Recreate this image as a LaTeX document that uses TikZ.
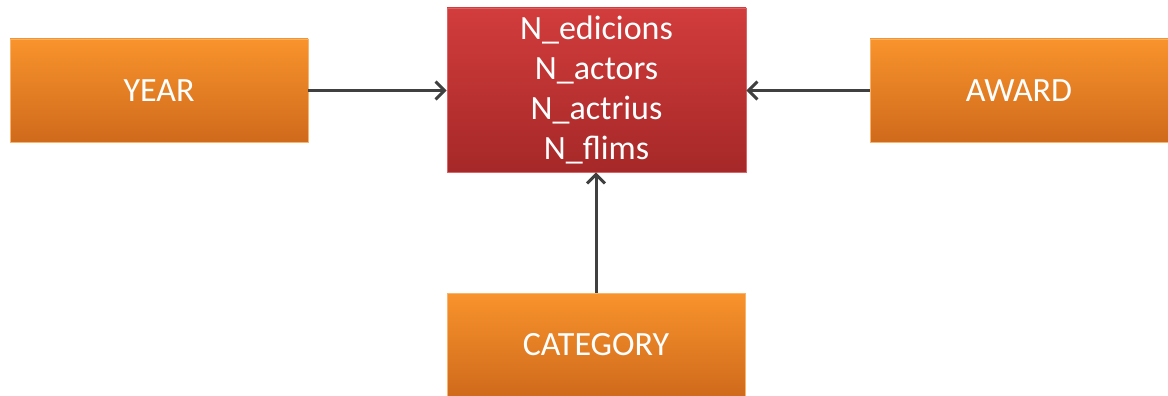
\documentclass[tikz,border=0pt]{standalone}
\usepackage{fontspec}
\setmainfont{Carlito}
\usetikzlibrary{arrows.meta}
\definecolor{orangetop}{HTML}{F8932C}
\definecolor{orangebot}{HTML}{D06A1C}
\definecolor{redtop}{HTML}{D23C3C}
\definecolor{redbot}{HTML}{A62828}
\definecolor{linkgray}{HTML}{404040}
\tikzset{
  dimbox/.style={rectangle, minimum width=298pt, minimum height=103pt, inner sep=0pt,
    top color=orangetop, bottom color=orangebot, draw=orangetop!70!white, line width=0.6pt,
    text=white, font=\fontsize{34}{40}\selectfont},
  factbox/.style={rectangle, minimum width=299pt, minimum height=164pt, inner sep=0pt,
    top color=redtop, bottom color=redbot, draw=redtop!80!white, line width=0.6pt,
    text=white, align=center, font=\fontsize{34}{40}\selectfont},
  link/.style={draw=linkgray, line width=3pt, -{Straight Barb[length=9pt,width=18pt,line width=3pt]}}
}
\begin{document}
\begin{tikzpicture}[x=1pt,y=-1pt]
\useasboundingbox (0,0) rectangle (1168,396);
\node[factbox] (fact) at (596.5,90) {N\_edicions\\N\_actors\\N\_actrius\\N\_flims};
\node[dimbox] (year) at (159,90.5) {YEAR};
\node[dimbox] (award) at (1019,90.5) {AWARD};
\node[dimbox] (cat) at (596,344.5) {CATEGORY};
\draw[link] (year.east) -- (fact.west |- year.east);
\draw[link] (award.west) -- (fact.east |- award.west);
\draw[link] (cat.north) -- (cat.north |- fact.south);
\end{tikzpicture}
\end{document}
